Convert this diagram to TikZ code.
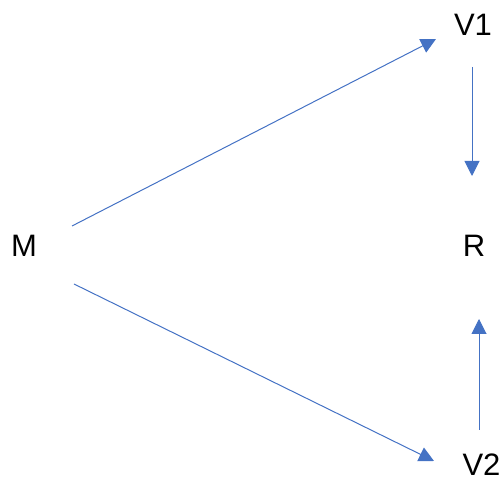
\documentclass[tikz,border=0pt]{standalone}
\usepackage{fontspec}
\setmainfont{Liberation Sans}
\usetikzlibrary{arrows.meta}
\definecolor{linkblue}{HTML}{4472C4}
\begin{document}
\begin{tikzpicture}[x=1pt,y=1pt,
  lbl/.style={inner sep=0pt, font=\fontsize{31}{36}\selectfont, text=black},
  link/.style={draw=linkblue, line width=1pt, -{Triangle[length=15pt,width=15pt]}}]
\useasboundingbox (0,0) rectangle (504,479);
\node[lbl] (M) at (24,233) {M};
\node[lbl] (V1) at (473,454) {V1};
\node[lbl] (R) at (474,233) {R};
\node[lbl] (V2) at (481.5,14) {V2};
\coordinate (mv1s) at (72,253);
\coordinate (mv1e) at (436,440);
\coordinate (v1rs) at (472,412);
\coordinate (v1re) at (472,303);
\coordinate (mv2s) at (74,195);
\coordinate (mv2e) at (434,18);
\coordinate (v2rs) at (479,49);
\coordinate (v2re) at (479,160);
\draw[link] (mv1s) -- (mv1e);
\draw[link] (v1rs) -- (v1re);
\draw[link] (mv2s) -- (mv2e);
\draw[link] (v2rs) -- (v2re);
\end{tikzpicture}
\end{document}
